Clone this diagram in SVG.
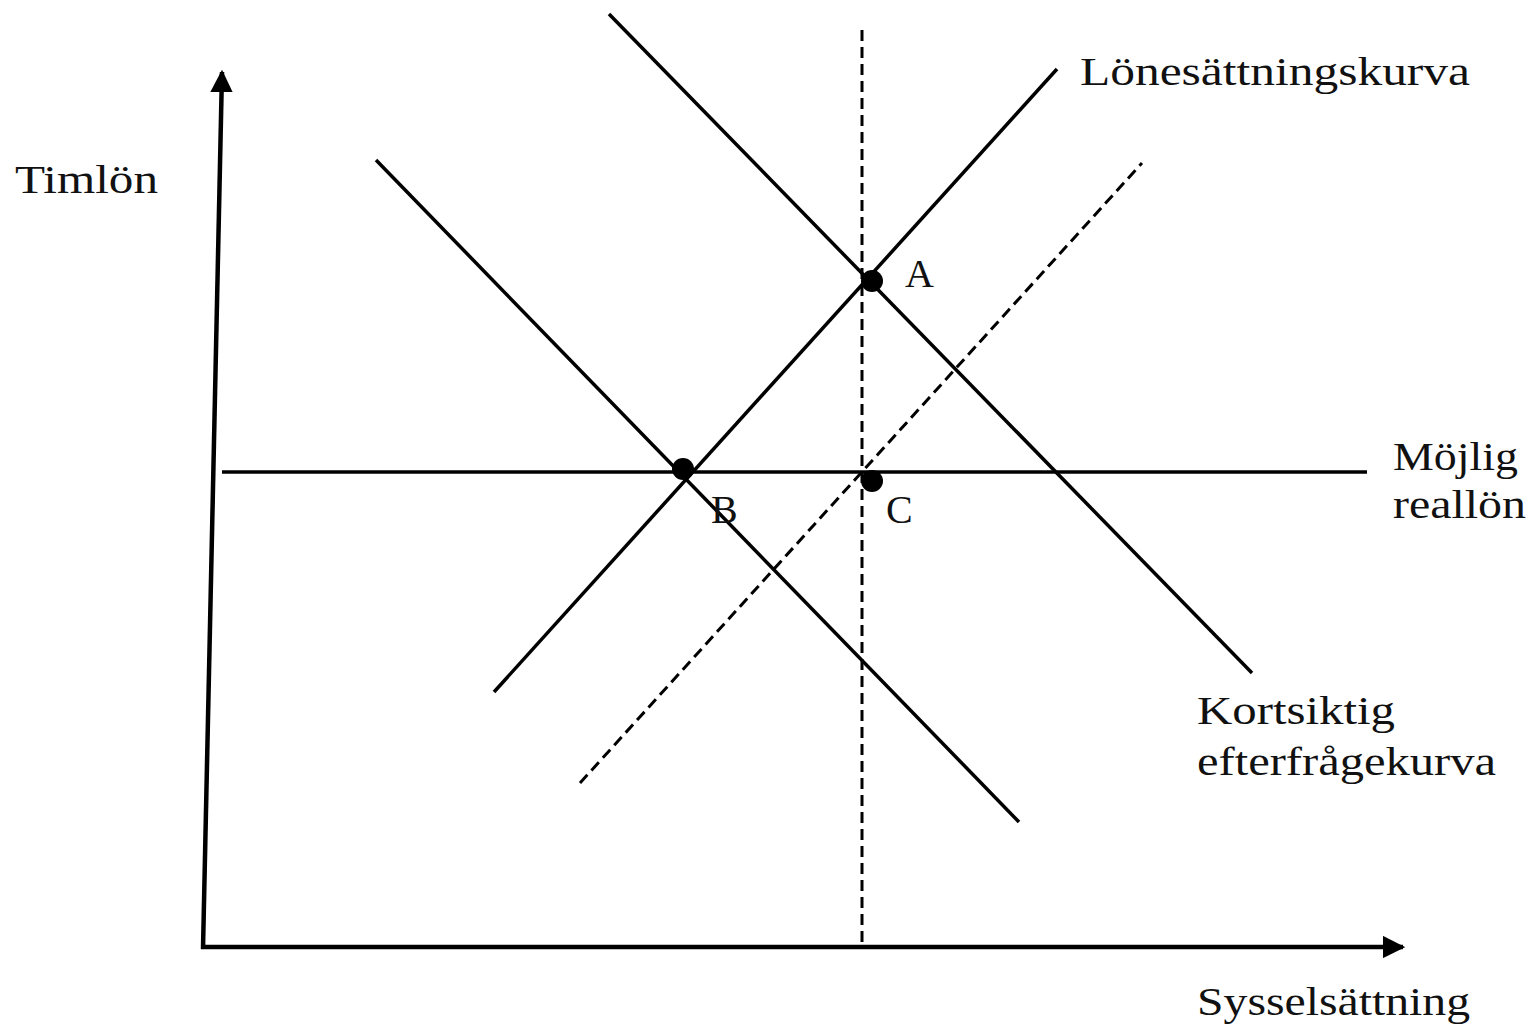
<svg xmlns="http://www.w3.org/2000/svg" width="1533" height="1034" viewBox="0 0 1533 1034">
<style>
.ln{stroke:#000;stroke-width:3.5;fill:none;stroke-linecap:butt}
.ax{stroke:#000;stroke-width:4.5;fill:none}
.ds{stroke:#000;stroke-width:3;fill:none;stroke-dasharray:11 6}
.t{font-family:"Liberation Serif","Times New Roman",serif;font-size:40px;fill:#111}
.dot{fill:#000}
</style>
<defs>
<marker id="ah" viewBox="0 0 10 10" refX="9" refY="5" markerWidth="5" markerHeight="5" markerUnits="strokeWidth" orient="auto">
<path d="M0,0 L10,5 L0,10 z" fill="#000"/>
</marker>
</defs>
<rect width="1533" height="1034" fill="#fff"/>
<g id="connectors">
<line id="y-axis" class="ax" x1="203" y1="949" x2="222" y2="72" marker-end="url(#ah)"/>
<line id="x-axis" class="ax" x1="201" y1="947" x2="1403" y2="947" marker-end="url(#ah)"/>
<line id="reallon" class="ln" x1="222" y1="472" x2="1367" y2="472"/>
<line id="vertical-dashed" class="ds" x1="862" y1="30" x2="862" y2="948"/>
<line id="lonesattning" class="ln" x1="494" y1="692" x2="1057" y2="69"/>
<line id="lonesattning-shifted" class="ds" x1="580" y1="783" x2="1142" y2="163"/>
<line id="demand-upper" class="ln" x1="609" y1="14" x2="1252" y2="673"/>
<line id="demand-lower" class="ln" x1="376" y1="160" x2="1019" y2="822"/>
</g>
<g id="point-A"><circle class="dot" cx="872" cy="281" r="11"/><text class="t" x="905" y="287">A</text></g>
<g id="point-B"><circle class="dot" cx="683" cy="469" r="11"/><text class="t" x="711" y="523">B</text></g>
<g id="point-C"><circle class="dot" cx="872" cy="481" r="11"/><text class="t" x="886" y="523">C</text></g>
<g id="label-timlon"><text class="t" x="15" y="193" textLength="143" lengthAdjust="spacingAndGlyphs">Timlön</text></g>
<g id="label-lonesattning"><text class="t" x="1080" y="85" textLength="390" lengthAdjust="spacingAndGlyphs">Lönesättningskurva</text></g>
<g id="label-mojlig"><text class="t" x="1393" y="470" textLength="125" lengthAdjust="spacingAndGlyphs">Möjlig</text><text class="t" x="1393" y="518" textLength="133" lengthAdjust="spacingAndGlyphs">reallön</text></g>
<g id="label-kortsiktig"><text class="t" x="1197" y="724" textLength="198" lengthAdjust="spacingAndGlyphs">Kortsiktig</text><text class="t" x="1197" y="775" textLength="299" lengthAdjust="spacingAndGlyphs">efterfrågekurva</text></g>
<g id="label-syssel"><text class="t" x="1197" y="1015" textLength="273" lengthAdjust="spacingAndGlyphs">Sysselsättning</text></g>
</svg>
